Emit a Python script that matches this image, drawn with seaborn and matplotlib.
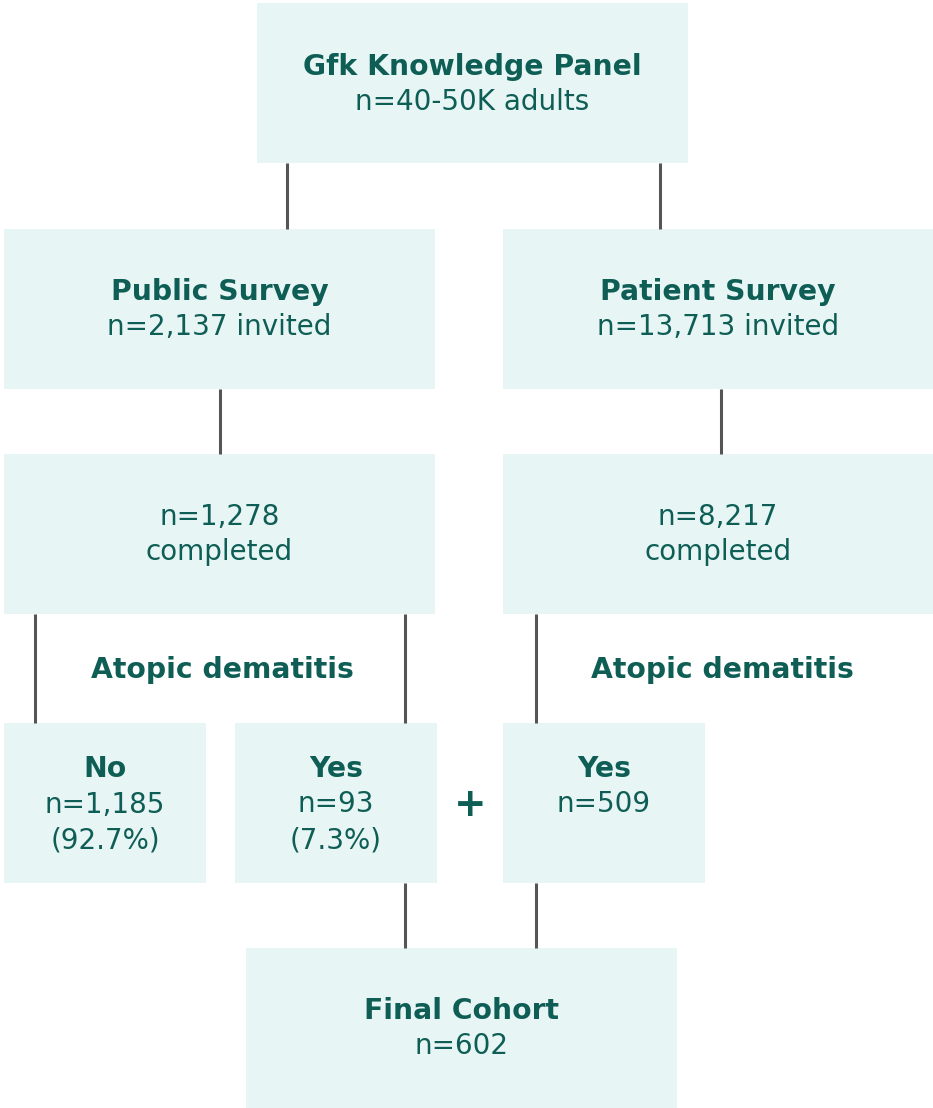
import matplotlib.pyplot as plt
import seaborn as sns

# flowchart content
box_titles = ["Gfk Knowledge Panel", "Public Survey", "Patient Survey", "", "",
              "No", "Yes", "Yes", "Final Cohort"]
box_counts = ["n=40-50K adults", "n=2,137 invited", "n=13,713 invited",
              "n=1,278\ncompleted", "n=8,217\ncompleted",
              "n=1,185\n(92.7%)", "n=93\n(7.3%)", "n=509", "n=602"]
branch_label = "Atopic dematitis"

# layout in pixel units (x0, y0, x1, y1), y grows downward
box_xy = [(257, 3, 688, 163), (4, 229, 435, 389), (503, 229, 933, 389),
          (4, 454, 435, 614), (503, 454, 933, 614),
          (4, 723, 206, 883), (235, 723, 437, 883), (503, 723, 705, 883),
          (246, 948, 677, 1108)]
# first text line centre for each box
first_line = [67, 292, 292, 517, 517, 769, 769, 769, 1011]
links = [(287, 163, 229), (660, 163, 229), (220, 389, 454), (721, 389, 454),
         (35, 614, 723), (405, 614, 723), (536, 614, 723),
         (405, 883, 948), (536, 883, 948)]
STEP = 35.5

FILL = "#e8f5f5"
INK = "#0e5e56"
LINE = "#555555"

sns.set_style("white")
plt.rcParams["font.family"] = ["DejaVu Sans"]

fig = plt.figure(figsize=(9.33, 11.08), dpi=100)
ax = fig.add_axes([0, 0, 1, 1])
ax.set_xlim(0, 933)
ax.set_ylim(1108, 0)
ax.axis("off")

x0 = [b[0] for b in box_xy]
y0 = [b[1] for b in box_xy]
w = [b[2] - b[0] for b in box_xy]
h = [b[3] - b[1] for b in box_xy]
ax.bar(x0, h, width=w, bottom=y0, align="edge", color=FILL, linewidth=0)

for x, ya, yb in links:
    ax.plot([x, x], [ya, yb], color=LINE, lw=2.2, solid_capstyle="butt")

for (bx0, by0, bx1, by1), title, count, yl in zip(box_xy, box_titles,
                                                   box_counts, first_line):
    cx = (bx0 + bx1) / 2
    lines = ([(title, "bold")] if title else []) + \
            [(s, "normal") for s in count.split("\n")]
    for i, (s, wt) in enumerate(lines):
        ax.text(cx, yl + i * STEP, s, ha="center", va="center",
                fontsize=20.3 if wt == "bold" else 20, fontweight=wt, color=INK)

for cx in (222, 722):
    ax.text(cx, 670, branch_label, ha="center", va="center", fontsize=20.3,
            fontweight="bold", color=INK)
ax.text(470, 805, "+", ha="center", va="center", fontsize=28,
        fontweight="bold", color=INK)

fig.savefig("out.png", dpi=100)
